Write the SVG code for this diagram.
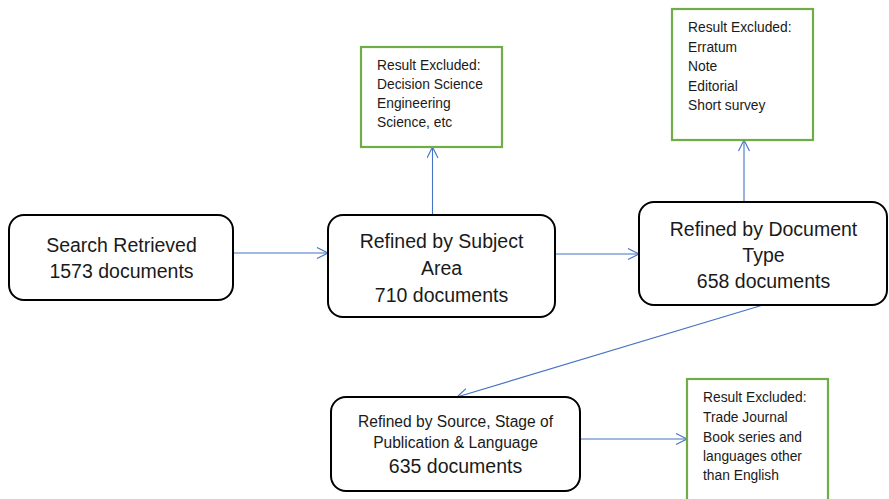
<svg xmlns="http://www.w3.org/2000/svg" width="889" height="499" viewBox="0 0 889 499">
  <style>
    .step { fill: #ffffff; stroke: #000000; stroke-width: 2; }
    .excl { fill: #ffffff; stroke: #70ad47; stroke-width: 2.2; }
    .big { font-family: "Liberation Sans", Arial, sans-serif; font-size: 19.5px; fill: #1a1a1a; text-anchor: middle; }
    .mid { font-family: "Liberation Sans", Arial, sans-serif; font-size: 15.6px; fill: #1a1a1a; text-anchor: middle; }
    .small { font-family: "Liberation Sans", Arial, sans-serif; font-size: 13.8px; fill: #1a1a1a; }
    .link { fill: none; stroke: #4472c4; stroke-width: 1.1; marker-end: url(#open); }
  </style>
  <defs>
    <marker id="open" markerUnits="userSpaceOnUse" markerWidth="14" markerHeight="14" refX="12" refY="6" orient="auto">
      <path d="M1,0.5 L12,6 L1,11.5" fill="none" stroke="#4472c4" stroke-width="1.1"/>
    </marker>
  </defs>
  <rect width="889" height="499" fill="#ffffff"/>

  <g id="connectors">
    <line class="link" x1="233" y1="253" x2="328" y2="253"/>
    <line class="link" x1="555" y1="254" x2="639" y2="254"/>
    <line class="link" x1="432.5" y1="215" x2="432.5" y2="147"/>
    <line class="link" x1="744" y1="202" x2="744" y2="140"/>
    <line class="link" x1="763" y1="305" x2="457" y2="397"/>
    <line class="link" x1="580" y1="439" x2="687" y2="439"/>
  </g>

  <g id="search-retrieved">
    <rect class="step" x="9" y="215" width="224" height="85" rx="15"/>
    <text class="big" x="121.5" y="252">Search Retrieved</text>
    <text class="big" x="121.5" y="278">1573 documents</text>
  </g>

  <g id="subject-area">
    <rect class="step" x="328" y="215" width="227" height="102" rx="15"/>
    <text class="big" x="441.5" y="248">Refined by Subject</text>
    <text class="big" x="441.5" y="275">Area</text>
    <text class="big" x="441.5" y="302">710 documents</text>
  </g>

  <g id="document-type">
    <rect class="step" x="639" y="202" width="248" height="103" rx="15"/>
    <text class="big" x="763.5" y="236">Refined by Document</text>
    <text class="big" x="763.5" y="262">Type</text>
    <text class="big" x="763.5" y="288">658 documents</text>
  </g>

  <g id="source-stage-language">
    <rect class="step" x="331" y="397" width="249" height="94" rx="15"/>
    <text class="mid" x="455.5" y="427">Refined by Source, Stage of</text>
    <text class="mid" x="455.5" y="448">Publication &amp; Language</text>
    <text class="big" x="455.5" y="473">635 documents</text>
  </g>

  <g id="excluded-subject">
    <rect class="excl" x="361" y="47" width="141" height="100"/>
    <text class="small" x="377" y="70">Result Excluded:</text>
    <text class="small" x="377" y="89">Decision Science</text>
    <text class="small" x="377" y="108">Engineering</text>
    <text class="small" x="377" y="127">Science, etc</text>
  </g>

  <g id="excluded-type">
    <rect class="excl" x="672" y="9" width="141" height="131"/>
    <text class="small" x="688" y="32">Result Excluded:</text>
    <text class="small" x="688" y="52">Erratum</text>
    <text class="small" x="688" y="71">Note</text>
    <text class="small" x="688" y="91">Editorial</text>
    <text class="small" x="688" y="110">Short survey</text>
  </g>

  <g id="excluded-source">
    <rect class="excl" x="687" y="379" width="141" height="130"/>
    <text class="small" x="703" y="402">Result Excluded:</text>
    <text class="small" x="703" y="422">Trade Journal</text>
    <text class="small" x="703" y="442">Book series and</text>
    <text class="small" x="703" y="461">languages other</text>
    <text class="small" x="703" y="480">than English</text>
  </g>
</svg>
